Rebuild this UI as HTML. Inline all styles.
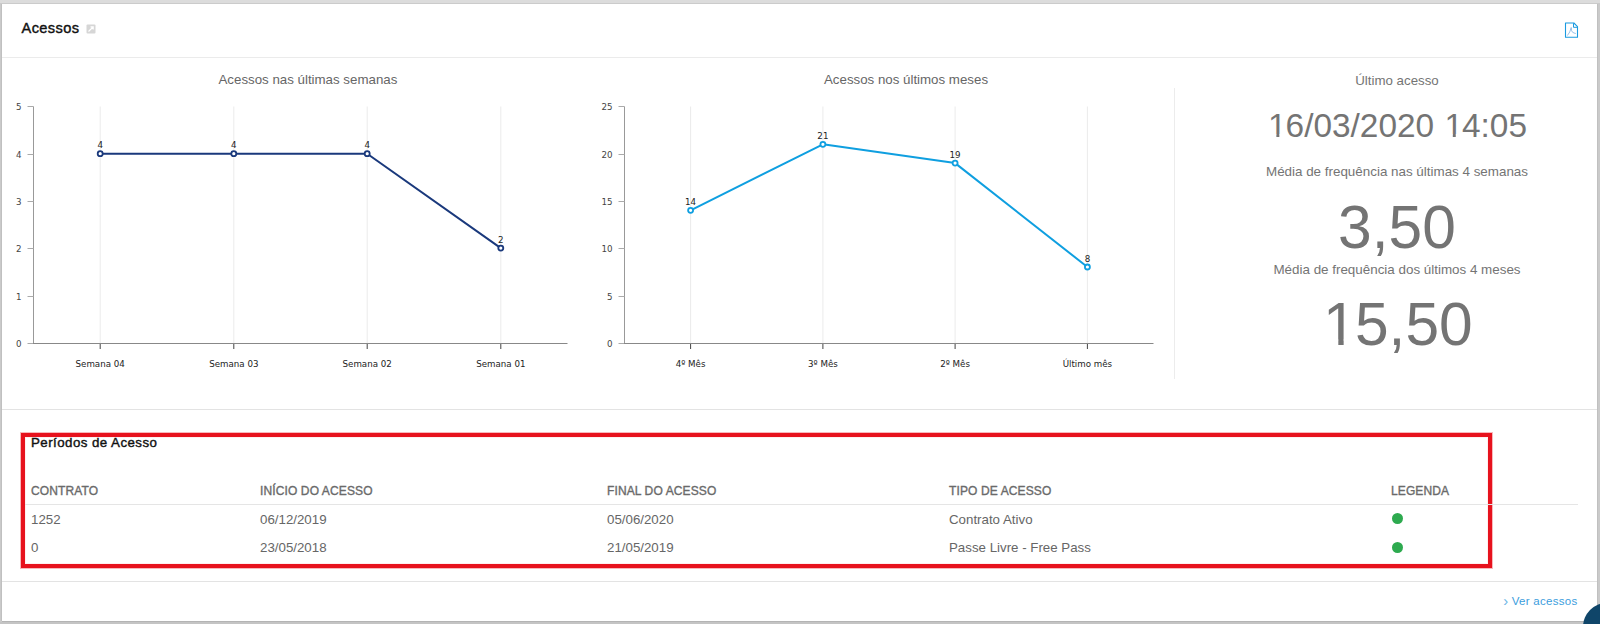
<!DOCTYPE html>
<html lang="pt-BR"><head><meta charset="utf-8"><title>Acessos</title>
<style>
html,body{margin:0;padding:0;}
html{overflow:hidden;width:1600px;height:624px;}
body{width:1600px;height:624px;background:#cacaca;position:relative;overflow:hidden;font-family:"Liberation Sans",Arial,sans-serif;}
.card{position:absolute;left:2px;top:4px;width:1595px;height:617px;background:#fff;box-shadow:0 -1px 0 #cbcbcb,-1px 0 0 #c0c0c0,1px 0 0 #c0c0c0,0 1px 0 #b4b4b4;}
.a{position:absolute;white-space:nowrap;}
.hr{position:absolute;height:1px;background:#e6e6e6;}
svg text{font-family:"DejaVu Sans",Verdana,sans-serif;}
svg text.ct{font-family:"Liberation Sans",Arial,sans-serif;font-size:13.3px;fill:#666;}
svg text.yl{font-size:8.7px;fill:#444;}
svg text.xl{font-size:8.7px;fill:#222;}
svg text.dl{font-size:8.7px;fill:#222;}
.big{color:#747474;text-align:center;left:1197px;width:400px;}
.th{font-size:12px;font-weight:normal;color:#6a6a6a;-webkit-text-stroke:0.35px #6a6a6a;letter-spacing:0.12px;}
.td{font-size:13.3px;color:#666;}
.one{position:relative;left:0.03em;clip-path:polygon(0 0,100% 0,100% 0.82em,0.3398em 0.82em,0.3398em 100%,0.2515em 100%,0.2515em 0.82em,0 0.82em);}
.dot{position:absolute;width:11px;height:11px;border-radius:50%;background:#2daa4f;}
</style></head>
<body>
<div class="a" style="left:0;top:0;width:1600px;height:3px;background:#dcdcdc;"></div>
<div class="a" style="left:0;top:622px;width:1600px;height:2px;background:#c4c4c4;"></div>
<div class="card"></div>
<div class="a" style="left:21.5px;top:19.5px;font-size:14.6px;font-weight:normal;color:#111;-webkit-text-stroke:0.4px #111;letter-spacing:0.4px;">Acessos</div>
<svg class="a" style="left:86px;top:24px" width="10" height="10" viewBox="0 0 10 10"><rect x="0.5" y="0.5" width="9" height="9" rx="1" fill="#d6d6d6"/><path d="M2.5 7.5 L7 3 M4.5 2.8 H7.2 V5.5" stroke="#fff" stroke-width="1.2" fill="none"/></svg>
<svg class="a" style="left:1564px;top:22px" width="16" height="17" viewBox="0 0 16 17"><path d="M1.5 1 H9.9 L13.5 4.6 V15.3 H1.5 Z" fill="none" stroke="#1a9ae0" stroke-width="1.1" stroke-linejoin="round"/><path d="M9.5 1.2 V5.3 H13.4" fill="none" stroke="#1a9ae0" stroke-width="1"/><path d="M3.3 13.6 Q6.2 10.5 7.2 5.5 Q7.3 9.4 8.6 10.3 Q10 11.1 11.8 11.5" fill="none" stroke="#7fb0e0" stroke-width="0.8"/></svg>
<div class="hr" style="left:2px;top:57px;width:1595px;background:#ebebeb;"></div>
<svg class="a" style="left:0;top:0" width="1600" height="400" viewBox="0 0 1600 400">
<text x="307.9" y="84.3" class="ct" text-anchor="middle">Acessos nas últimas semanas</text>
<line x1="100.2" y1="106.5" x2="100.2" y2="343.5" stroke="#ebebeb" stroke-width="1"/>
<line x1="233.8" y1="106.5" x2="233.8" y2="343.5" stroke="#ebebeb" stroke-width="1"/>
<line x1="367.2" y1="106.5" x2="367.2" y2="343.5" stroke="#ebebeb" stroke-width="1"/>
<line x1="500.8" y1="106.5" x2="500.8" y2="343.5" stroke="#ebebeb" stroke-width="1"/>
<line x1="33.5" y1="106.5" x2="33.5" y2="343.5" stroke="#999" stroke-width="1"/>
<line x1="27.5" y1="343.5" x2="33.5" y2="343.5" stroke="#aaa" stroke-width="1"/>
<text x="21.5" y="346.7" class="yl" text-anchor="end">0</text>
<line x1="27.5" y1="296.5" x2="33.5" y2="296.5" stroke="#aaa" stroke-width="1"/>
<text x="21.5" y="299.7" class="yl" text-anchor="end">1</text>
<line x1="27.5" y1="248.5" x2="33.5" y2="248.5" stroke="#aaa" stroke-width="1"/>
<text x="21.5" y="251.7" class="yl" text-anchor="end">2</text>
<line x1="27.5" y1="201.5" x2="33.5" y2="201.5" stroke="#aaa" stroke-width="1"/>
<text x="21.5" y="204.7" class="yl" text-anchor="end">3</text>
<line x1="27.5" y1="154.5" x2="33.5" y2="154.5" stroke="#aaa" stroke-width="1"/>
<text x="21.5" y="157.7" class="yl" text-anchor="end">4</text>
<line x1="27.5" y1="106.5" x2="33.5" y2="106.5" stroke="#aaa" stroke-width="1"/>
<text x="21.5" y="109.7" class="yl" text-anchor="end">5</text>
<line x1="33.0" y1="343.5" x2="567.5" y2="343.5" stroke="#888" stroke-width="1"/>
<line x1="100.2" y1="344.0" x2="100.2" y2="349.0" stroke="#444" stroke-width="1"/>
<text x="100.2" y="367" class="xl" text-anchor="middle">Semana 04</text>
<line x1="233.8" y1="344.0" x2="233.8" y2="349.0" stroke="#444" stroke-width="1"/>
<text x="233.8" y="367" class="xl" text-anchor="middle">Semana 03</text>
<line x1="367.2" y1="344.0" x2="367.2" y2="349.0" stroke="#444" stroke-width="1"/>
<text x="367.2" y="367" class="xl" text-anchor="middle">Semana 02</text>
<line x1="500.8" y1="344.0" x2="500.8" y2="349.0" stroke="#444" stroke-width="1"/>
<text x="500.8" y="367" class="xl" text-anchor="middle">Semana 01</text>
<polyline points="100.2,153.7 233.8,153.7 367.2,153.7 500.8,248.1" fill="none" stroke="#1a397c" stroke-width="2" stroke-linejoin="round"/>
<circle cx="100.2" cy="153.7" r="2.5" fill="#fff" stroke="#1a397c" stroke-width="1.8"/>
<text x="100.2" y="148.2" class="dl" text-anchor="middle">4</text>
<circle cx="233.8" cy="153.7" r="2.5" fill="#fff" stroke="#1a397c" stroke-width="1.8"/>
<text x="233.8" y="148.2" class="dl" text-anchor="middle">4</text>
<circle cx="367.2" cy="153.7" r="2.5" fill="#fff" stroke="#1a397c" stroke-width="1.8"/>
<text x="367.2" y="148.2" class="dl" text-anchor="middle">4</text>
<circle cx="500.8" cy="248.1" r="2.5" fill="#fff" stroke="#1a397c" stroke-width="1.8"/>
<text x="500.8" y="242.6" class="dl" text-anchor="middle">2</text>
<text x="906" y="84.3" class="ct" text-anchor="middle">Acessos nos últimos meses</text>
<line x1="690.6" y1="106.5" x2="690.6" y2="343.5" stroke="#ebebeb" stroke-width="1"/>
<line x1="822.9" y1="106.5" x2="822.9" y2="343.5" stroke="#ebebeb" stroke-width="1"/>
<line x1="955.1" y1="106.5" x2="955.1" y2="343.5" stroke="#ebebeb" stroke-width="1"/>
<line x1="1087.4" y1="106.5" x2="1087.4" y2="343.5" stroke="#ebebeb" stroke-width="1"/>
<line x1="624.5" y1="106.5" x2="624.5" y2="343.5" stroke="#999" stroke-width="1"/>
<line x1="618.5" y1="343.5" x2="624.5" y2="343.5" stroke="#aaa" stroke-width="1"/>
<text x="612.5" y="346.7" class="yl" text-anchor="end">0</text>
<line x1="618.5" y1="296.5" x2="624.5" y2="296.5" stroke="#aaa" stroke-width="1"/>
<text x="612.5" y="299.7" class="yl" text-anchor="end">5</text>
<line x1="618.5" y1="248.5" x2="624.5" y2="248.5" stroke="#aaa" stroke-width="1"/>
<text x="612.5" y="251.7" class="yl" text-anchor="end">10</text>
<line x1="618.5" y1="201.5" x2="624.5" y2="201.5" stroke="#aaa" stroke-width="1"/>
<text x="612.5" y="204.7" class="yl" text-anchor="end">15</text>
<line x1="618.5" y1="154.5" x2="624.5" y2="154.5" stroke="#aaa" stroke-width="1"/>
<text x="612.5" y="157.7" class="yl" text-anchor="end">20</text>
<line x1="618.5" y1="106.5" x2="624.5" y2="106.5" stroke="#aaa" stroke-width="1"/>
<text x="612.5" y="109.7" class="yl" text-anchor="end">25</text>
<line x1="624.0" y1="343.5" x2="1153.5" y2="343.5" stroke="#888" stroke-width="1"/>
<line x1="690.6" y1="344.0" x2="690.6" y2="349.0" stroke="#444" stroke-width="1"/>
<text x="690.6" y="367" class="xl" text-anchor="middle">4º Mês</text>
<line x1="822.9" y1="344.0" x2="822.9" y2="349.0" stroke="#444" stroke-width="1"/>
<text x="822.9" y="367" class="xl" text-anchor="middle">3º Mês</text>
<line x1="955.1" y1="344.0" x2="955.1" y2="349.0" stroke="#444" stroke-width="1"/>
<text x="955.1" y="367" class="xl" text-anchor="middle">2º Mês</text>
<line x1="1087.4" y1="344.0" x2="1087.4" y2="349.0" stroke="#444" stroke-width="1"/>
<text x="1087.4" y="367" class="xl" text-anchor="middle">Último mês</text>
<polyline points="690.6,210.3 822.9,144.3 955.1,163.1 1087.4,267.0" fill="none" stroke="#0f9fe0" stroke-width="2" stroke-linejoin="round"/>
<circle cx="690.6" cy="210.3" r="2.5" fill="#fff" stroke="#0f9fe0" stroke-width="1.8"/>
<text x="690.6" y="204.8" class="dl" text-anchor="middle">14</text>
<circle cx="822.9" cy="144.3" r="2.5" fill="#fff" stroke="#0f9fe0" stroke-width="1.8"/>
<text x="822.9" y="138.8" class="dl" text-anchor="middle">21</text>
<circle cx="955.1" cy="163.1" r="2.5" fill="#fff" stroke="#0f9fe0" stroke-width="1.8"/>
<text x="955.1" y="157.6" class="dl" text-anchor="middle">19</text>
<circle cx="1087.4" cy="267.0" r="2.5" fill="#fff" stroke="#0f9fe0" stroke-width="1.8"/>
<text x="1087.4" y="261.5" class="dl" text-anchor="middle">8</text>
<line x1="1174.5" y1="88" x2="1174.5" y2="379" stroke="#ececec" stroke-width="1"/>
</svg>
<div class="a big" style="top:72.8px;font-size:13.3px;">Último acesso</div>
<div class="a big" style="top:106.6px;font-size:33.4px;"><span class="one">1</span>6/03/2020 <span class="one">1</span>4:05</div>
<div class="a big" style="top:163.8px;font-size:13.4px;">Média de frequência nas últimas 4 semanas</div>
<div class="a big" style="top:193.5px;font-size:60.5px;line-height:67px;">3,50</div>
<div class="a big" style="top:261.8px;font-size:13.4px;">Média de frequência dos últimos 4 meses</div>
<div class="a big" style="top:291px;font-size:60.5px;line-height:67px;"><span class="one">1</span>5,50</div>
<div class="hr" style="left:2px;top:409px;width:1595px;background:#e3e3e3;"></div>
<div class="a" style="left:21px;top:433px;width:1463px;height:127px;border:4px solid #e7121d;box-shadow:0 0 0 1px rgba(232,20,30,0.3),inset 0 0 0 1px rgba(255,190,190,0.25);"></div>
<div class="a" style="left:31px;top:435px;font-size:13.3px;font-weight:normal;color:#111;-webkit-text-stroke:0.4px #111;letter-spacing:0.45px;">Períodos de Acesso</div>
<div class="a th" style="left:31px;top:483.5px;">CONTRATO</div>
<div class="a th" style="left:260px;top:483.5px;">INÍCIO DO ACESSO</div>
<div class="a th" style="left:607px;top:483.5px;">FINAL DO ACESSO</div>
<div class="a th" style="left:949px;top:483.5px;">TIPO DE ACESSO</div>
<div class="a th" style="left:1391px;top:483.5px;">LEGENDA</div>
<div class="hr" style="left:25px;top:504px;width:1553px;background:#e5e5e5;"></div>
<div class="a td" style="left:31px;top:511.5px;">1252</div>
<div class="a td" style="left:260px;top:511.5px;">06/12/2019</div>
<div class="a td" style="left:607px;top:511.5px;">05/06/2020</div>
<div class="a td" style="left:949px;top:511.5px;">Contrato Ativo</div>
<div class="dot" style="left:1391.5px;top:513.3px;"></div>
<div class="a td" style="left:31px;top:539.5px;">0</div>
<div class="a td" style="left:260px;top:539.5px;">23/05/2018</div>
<div class="a td" style="left:607px;top:539.5px;">21/05/2019</div>
<div class="a td" style="left:949px;top:539.5px;">Passe Livre - Free Pass</div>
<div class="dot" style="left:1391.5px;top:541.5px;"></div>
<div class="hr" style="left:2px;top:581px;width:1595px;background:#e3e3e3;"></div>
<div class="a" style="left:1503.3px;top:592.2px;font-size:15px;color:#6db5e6;">›</div><div class="a" style="left:1511.8px;top:595.3px;font-size:11.5px;letter-spacing:0.27px;color:#3b9ddd;">Ver acessos</div>
<div class="a" style="left:1583px;top:603px;width:17px;height:21px;overflow:hidden;"><div style="width:48px;height:48px;border-radius:50%;background:#0f4569;"></div></div>
</body></html>
